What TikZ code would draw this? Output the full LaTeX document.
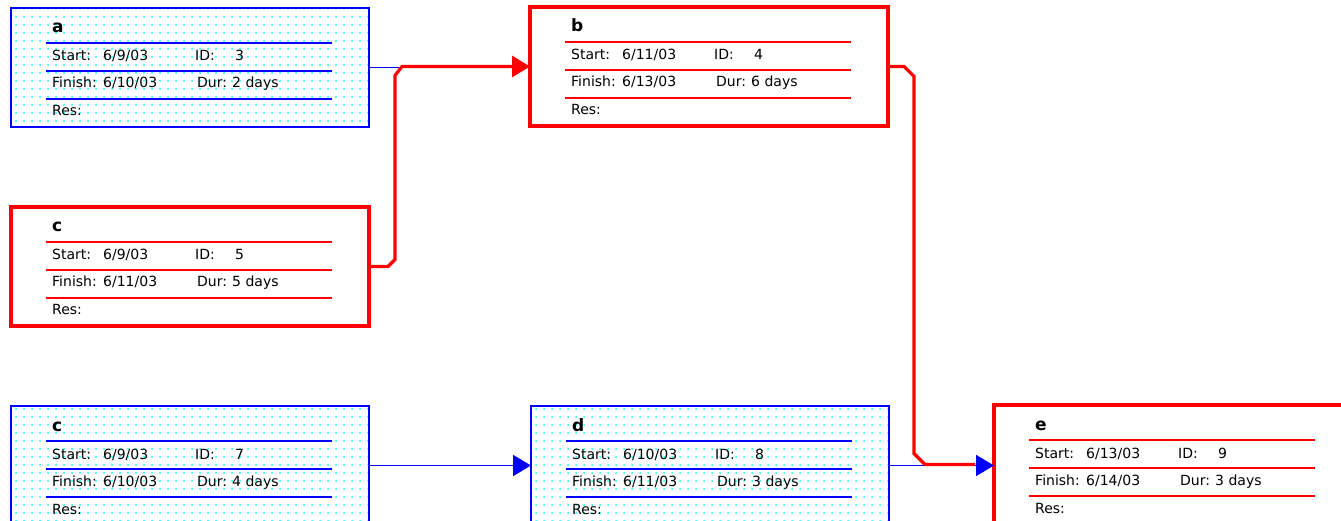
\documentclass[tikz,border=0pt]{standalone}
\usepackage{fontspec}
\newfontfamily\taskfont{DejaVu Sans}
\usetikzlibrary{arrows.meta,patterns.meta}

\tikzset{
  blue box/.style={draw=blue, line width=1.8pt, pattern={Dots[distance=8pt,radius=1pt]}, pattern color=cyan,
    minimum width=358pt, minimum height=119pt, inner sep=0pt, outer sep=0pt},
  red box/.style={draw=red, line width=3.2pt, fill=white,
    minimum width=358pt, minimum height=119pt, inner sep=0pt, outer sep=0pt},
  blue rule/.style={blue, line width=1.8pt},
  red rule/.style={red, line width=1.4pt},
  blue link/.style={blue, line width=1.8pt},
  red link/.style={red, line width=3.2pt},
  link tip/.style={-{Triangle[length=18pt,width=21pt]}},
  title/.style={font=\taskfont\fontsize{17}{20}\selectfont\bfseries, anchor=base west, inner sep=0pt},
  field/.style={font=\taskfont\fontsize{14}{16}\selectfont, anchor=base west, inner sep=0pt},
}

% #1 name, #2 top left corner, #3 blue/red, #4 title, #5 start, #6 id, #7 finish, #8 duration
\newcommand{\taskbox}[8]{%
  \node[#3 box, anchor=north west] (#1) at (#2) {};
  \begin{scope}[shift={(#1.north west)}]
    \draw[#3 rule] (35,35) -- (321,35);
    \draw[#3 rule] (35,63) -- (321,63);
    \draw[#3 rule] (35,91) -- (321,91);
    \node[title] (#1-title) at (41,25) {#4};
    \node[field] (#1-start) at (41,53) {Start:};
    \node[field] (#1-sdate) at (92,53) {#5};
    \node[field] (#1-id) at (184,53) {ID:};
    \node[field] (#1-idval) at (224,53) {#6};
    \node[field] (#1-finish) at (41,80) {Finish:};
    \node[field] (#1-fdate) at (92,80) {#7};
    \node[field] (#1-dur) at (186,80) {Dur:};
    \node[field] (#1-durval) at (221,80) {#8};
    \node[field] (#1-res) at (41,108) {Res:};
  \end{scope}}

\begin{document}
\begin{tikzpicture}[x=1pt, y=-1pt]
    \useasboundingbox (0,0) rectangle (1341,521);

    % Vorgaenge
    \taskbox{a}{11,8}{blue}{a}{6/9/03}{3}{6/10/03}{2 days}
    \taskbox{b}{530,7}{red}{b}{6/11/03}{4}{6/13/03}{6 days}
    \taskbox{c1}{11,207}{red}{c}{6/9/03}{5}{6/11/03}{5 days}
    \taskbox{c2}{11,406}{blue}{c}{6/9/03}{7}{6/10/03}{4 days}
    \taskbox{d}{531,406}{blue}{d}{6/10/03}{8}{6/11/03}{3 days}
    \taskbox{e}{994,405}{red}{e}{6/13/03}{9}{6/14/03}{3 days}

    % Verbindungen
    \coordinate (join) at ([xshift=-128pt]b.west);
    \draw[blue link] (a.east) -- (a.east -| join);
    \draw[red link, link tip] (c1.east) -- ++(19,0) -- ++(7,-7)
        -- ([xshift=-135pt, yshift=-9pt]b.west) -- (join) -- (b.west);
    \draw[blue link, link tip] (c2.east) -- (d.west);
    \draw[blue link, link tip] (d.east) -- (d.east -| e.west);
    \draw[red link] (b.east) -- ++(16,0) -- ++(10,10)
        -- ([xshift=-80pt, yshift=11pt]e.west) -- ([xshift=-69pt]e.west) -- ([xshift=-19pt]e.west);
\end{tikzpicture}
\end{document}
